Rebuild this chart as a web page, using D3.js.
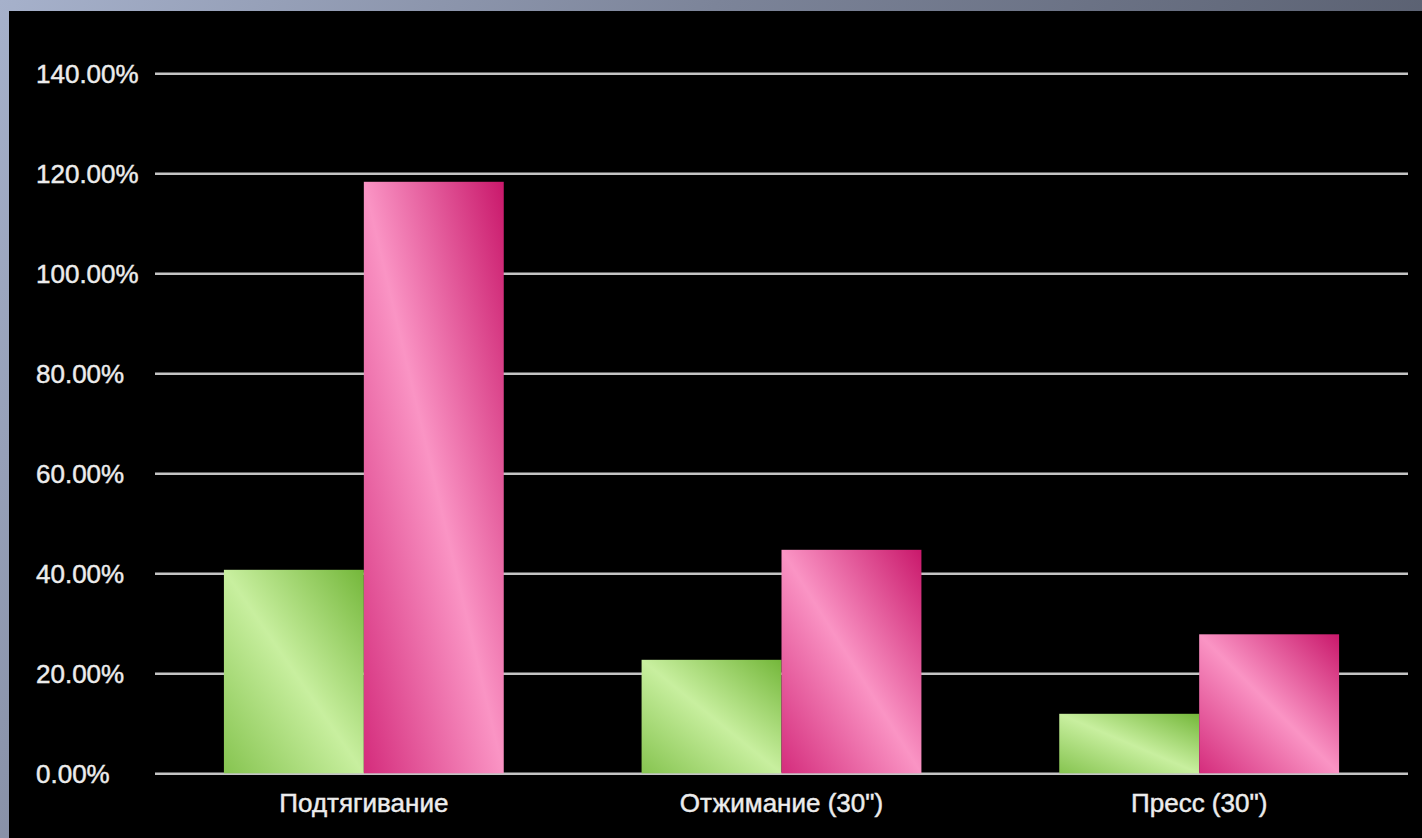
<!DOCTYPE html>
<html>
<head>
<meta charset="utf-8">
<script src="https://cdn.jsdelivr.net/npm/d3@7"></script>
<style>
    html, body { margin: 0; padding: 0; background: #000; overflow: hidden; }
    svg { display: block; }
    text { font-family: "Liberation Sans", Arial, sans-serif; fill: #ececec; }
</style>
</head>
<body>
<svg width="1422" height="838"></svg>
<script>
/** data */
var categories = ['Подтягивание', 'Отжимание (30")', 'Пресс (30")'];
var seriesNames = ['before', 'after'];
var greenValues = [40.7, 22.7, 11.9];
var pinkValues = [118.3, 44.7, 27.8];
var yTicks = [0, 20, 40, 60, 80, 100, 120, 140];

function BarChart() {
    var bc = this;
    /** Constants */
    bc.plotLeft = 155;
    bc.plotRight = 1408;
    bc.plotTop = 73.3;
    bc.plotBottom = 773.3;

    bc.svg;
    bc.x;
    bc.xInner;
    bc.y;

    bc.init = function() {
        bc.svg = d3.select('svg');
        renderBackground();
        initScales();
        renderGrid();
        renderBars();
        renderLabels();
    }

    function renderBackground() {
        var defs = bc.svg.append('defs');

        var bg = defs.append('linearGradient').attr('id', 'slideBg')
            .attr('x1', 0).attr('y1', 0).attr('x2', 1).attr('y2', 0.35);
        bg.append('stop').attr('offset', '0%').attr('stop-color', '#a6b1cb');
        bg.append('stop').attr('offset', '45%').attr('stop-color', '#7c8499');
        bg.append('stop').attr('offset', '100%').attr('stop-color', '#545a6a');

        // diagonal light band, top-left to bottom-right
        var green = defs.append('linearGradient').attr('id', 'gradGreen')
            .attr('x1', 0).attr('y1', 1).attr('x2', 1).attr('y2', 0);
        green.append('stop').attr('offset', '0%').attr('stop-color', '#86c450');
        green.append('stop').attr('offset', '50%').attr('stop-color', '#c8ef9f');
        green.append('stop').attr('offset', '100%').attr('stop-color', '#74b73a');

        var pink = defs.append('linearGradient').attr('id', 'gradPink')
            .attr('x1', 0).attr('y1', 1).attr('x2', 1).attr('y2', 0);
        pink.append('stop').attr('offset', '0%').attr('stop-color', '#d42c7c');
        pink.append('stop').attr('offset', '50%').attr('stop-color', '#fa94c4');
        pink.append('stop').attr('offset', '100%').attr('stop-color', '#c9186b');

        bc.svg.append('rect').attr('width', 1422).attr('height', 838).attr('fill', 'url(#slideBg)');
        bc.svg.append('rect').attr('x', 9).attr('y', 11).attr('width', 1413).attr('height', 827).attr('fill', '#000');
    }

    function initScales() {
        bc.x = d3.scaleBand().domain(categories).range([bc.plotLeft, bc.plotRight])
            .paddingInner(0.33).paddingOuter(0.165);
        bc.xInner = d3.scaleBand().domain(seriesNames).range([0, bc.x.bandwidth()]);
        bc.y = d3.scaleLinear().domain([0, 140]).range([bc.plotBottom, bc.plotTop]);
    }

    function styleText(sel) {
        sel.style('font-size', '26px')
            .style('font-family', '"Liberation Sans", Arial, sans-serif')
            .attr('fill', '#ececec')
            .attr('stroke', '#ececec')
            .attr('stroke-width', 0.45);
    }

    function renderGrid() {
        var axis = d3.axisLeft(bc.y).tickValues(yTicks)
            .tickSize(-(bc.plotRight - bc.plotLeft))
            .tickFormat(d => d.toFixed(2) + '%');

        var g = bc.svg.append('g')
            .attr('transform', 'translate(' + bc.plotLeft + ',0)')
            .call(axis);
        g.select('.domain').remove();
        g.selectAll('.tick line').attr('stroke', '#c4c4c4').attr('stroke-width', 2.6);
        g.selectAll('.tick text')
            .attr('x', 36 - bc.plotLeft)
            .attr('dy', '0.35em')
            .attr('text-anchor', 'start')
            .call(styleText);
    }

    function renderBars() {
        var rows = categories.map((c, i) => ({ cat: c, values: [greenValues[i], pinkValues[i]] }));

        var groups = bc.svg.append('g').selectAll('.group').data(rows).enter().append('g')
            .attr('class', 'group')
            .attr('transform', d => 'translate(' + bc.x(d.cat) + ',0)');

        groups.selectAll('rect')
            .data(d => d.values.map((v, j) => ({ key: seriesNames[j], value: v })))
            .enter().append('rect')
            .attr('x', d => bc.xInner(d.key))
            .attr('width', bc.xInner.bandwidth())
            .attr('y', d => bc.y(d.value))
            .attr('height', d => bc.y(0) - bc.y(d.value))
            .attr('fill', d => d.key === 'before' ? 'url(#gradGreen)' : 'url(#gradPink)');
    }

    function renderLabels() {
        var axis = d3.axisBottom(bc.x).tickSize(0).tickPadding(0);
        var g = bc.svg.append('g')
            .attr('transform', 'translate(0,' + bc.plotBottom + ')')
            .call(axis);
        g.select('.domain').remove();
        g.selectAll('.tick text')
            .attr('y', 39)
            .attr('dy', 0)
            .call(styleText);
    }
}

var chart = new BarChart();
chart.init();
</script>
</body>
</html>
